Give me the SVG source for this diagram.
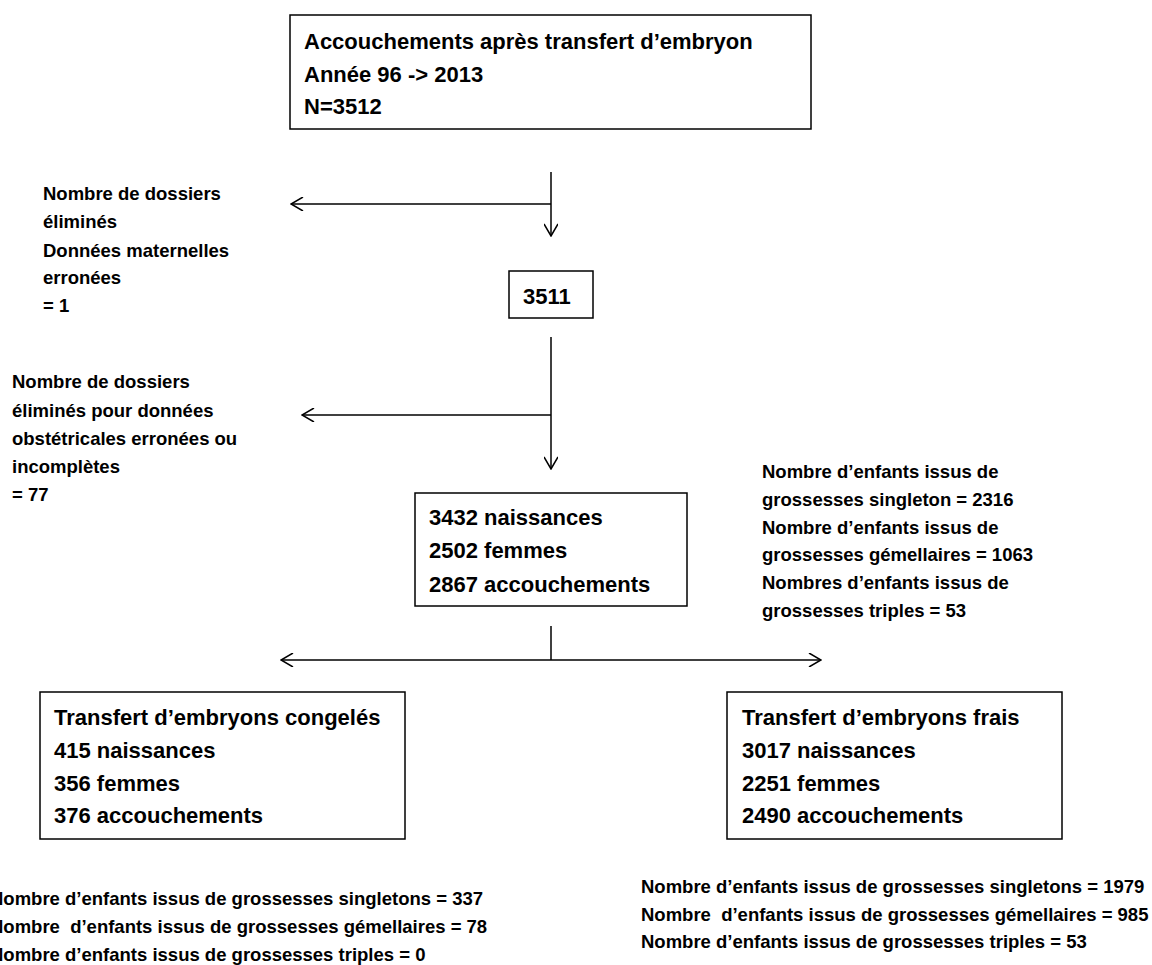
<svg xmlns="http://www.w3.org/2000/svg" width="1152" height="965" viewBox="0 0 1152 965">
<style>
text{font-family:"Liberation Sans",Arial,sans-serif;font-weight:bold;fill:#000}
.big{font-size:22px}
.sm{font-size:18.5px}
.box{fill:#fff;stroke:#000;stroke-width:1.5}
.ln{fill:none;stroke:#000;stroke-width:1.5}
</style>
<defs>
<marker id="arr" viewBox="0 0 14 14" refX="13" refY="7" markerWidth="14" markerHeight="14" markerUnits="userSpaceOnUse" orient="auto-start-reverse">
<path d="M1,0 L13,7 L1,14" fill="none" stroke="#000" stroke-width="1.5"/>
</marker>
</defs>
<rect width="1152" height="965" fill="#fff"/>
<g id="connectors">
<line class="ln" x1="551" y1="172" x2="551" y2="236" marker-end="url(#arr)"/>
<line class="ln" x1="551" y1="204" x2="291" y2="204" marker-end="url(#arr)"/>
<line class="ln" x1="551" y1="337" x2="551" y2="469" marker-end="url(#arr)"/>
<line class="ln" x1="551" y1="415" x2="302" y2="415" marker-end="url(#arr)"/>
<line class="ln" x1="551" y1="626" x2="551" y2="660"/>
<line class="ln" x1="281" y1="660" x2="821" y2="660" marker-start="url(#arr)" marker-end="url(#arr)"/>
</g>
<g id="n-total">
<rect class="box" x="290" y="15" width="521" height="114"/>
<text class="big" x="304" y="49">Accouchements après transfert d’embryon</text>
<text class="big" x="304" y="82">Année 96 -&gt; 2013</text>
<text class="big" x="304" y="114">N=3512</text>
</g>
<g id="n-excl1">
<text class="sm" x="43" y="200">Nombre de dossiers</text>
<text class="sm" x="43" y="228">éliminés</text>
<text class="sm" x="43" y="257">Données maternelles</text>
<text class="sm" x="43" y="284">erronées</text>
<text class="sm" x="43" y="312">= 1</text>
</g>
<g id="n-3511">
<rect class="box" x="509" y="271" width="84" height="47"/>
<text class="big" x="523" y="304">3511</text>
</g>
<g id="n-excl2">
<text class="sm" x="12" y="388">Nombre de dossiers</text>
<text class="sm" x="12" y="417">éliminés pour données</text>
<text class="sm" x="12" y="445">obstétricales erronées ou</text>
<text class="sm" x="12" y="473">incomplètes</text>
<text class="sm" x="12" y="501">= 77</text>
</g>
<g id="n-3432">
<rect class="box" x="415" y="493" width="272" height="113"/>
<text class="big" x="429" y="525">3432 naissances</text>
<text class="big" x="429" y="558">2502 femmes</text>
<text class="big" x="429" y="592">2867 accouchements</text>
</g>
<g id="n-counts">
<text class="sm" x="762" y="478">Nombre d’enfants issus de</text>
<text class="sm" x="762" y="506">grossesses singleton = 2316</text>
<text class="sm" x="762" y="534">Nombre d’enfants issus de</text>
<text class="sm" x="762" y="561">grossesses gémellaires = 1063</text>
<text class="sm" x="762" y="589">Nombres d’enfants issus de</text>
<text class="sm" x="762" y="617">grossesses triples = 53</text>
</g>
<g id="n-congeles">
<rect class="box" x="40" y="692" width="365" height="147"/>
<text class="big" x="54" y="725">Transfert d’embryons congelés</text>
<text class="big" x="54" y="758">415 naissances</text>
<text class="big" x="54" y="791">356 femmes</text>
<text class="big" x="54" y="823">376 accouchements</text>
</g>
<g id="n-frais">
<rect class="box" x="727" y="692" width="335" height="147"/>
<text class="big" x="742" y="725">Transfert d’embryons frais</text>
<text class="big" x="742" y="758">3017 naissances</text>
<text class="big" x="742" y="791">2251 femmes</text>
<text class="big" x="742" y="823">2490 accouchements</text>
</g>
<g id="n-congeles-detail">
<text class="sm" x="-10" y="905">Nombre d’enfants issus de grossesses singletons = 337</text>
<text class="sm" x="-10" y="933" xml:space="preserve">Nombre  d’enfants issus de grossesses gémellaires = 78</text>
<text class="sm" x="-10" y="961">Nombre d’enfants issus de grossesses triples = 0</text>
</g>
<g id="n-frais-detail">
<text class="sm" x="641" y="893">Nombre d’enfants issus de grossesses singletons = 1979</text>
<text class="sm" x="641" y="921" xml:space="preserve">Nombre  d’enfants issus de grossesses gémellaires = 985</text>
<text class="sm" x="641" y="948">Nombre d’enfants issus de grossesses triples = 53</text>
</g>
</svg>
